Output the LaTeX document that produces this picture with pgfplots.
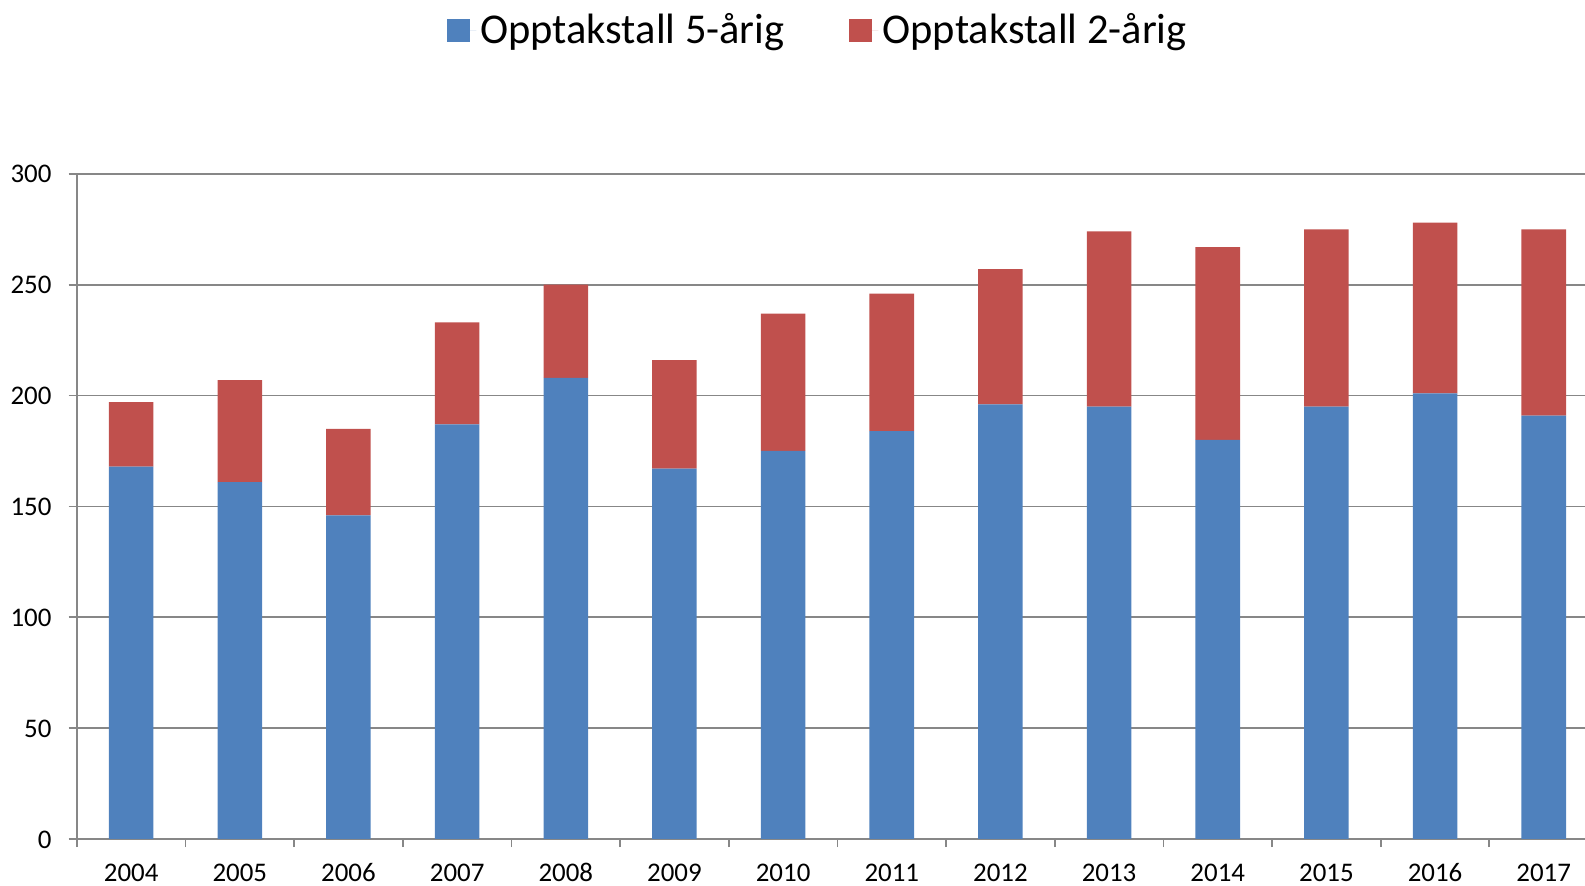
\documentclass[border=0pt]{standalone}
\usepackage{pgfplots}
\pgfplotsset{compat=1.18}
\usepackage{fontspec}
\setmainfont{Carlito}
\definecolor{cblue}{HTML}{4F81BD}
\definecolor{cred}{HTML}{C0504D}
\definecolor{cgrid}{HTML}{878787}
\begin{document}
\begin{tikzpicture}
\useasboundingbox (-38pt,-23pt) rectangle (746pt,415pt);
\begin{axis}[
  at={(0pt,0pt)}, anchor=south west,
  scale only axis, width=746pt, height=329pt,
  ybar stacked, bar width=0.41,
  xmin=-0.5, xmax=13.38, ymin=0, ymax=300,
  axis x line*=bottom, axis y line*=left,
  axis line style={cgrid, line width=0.9pt},
  ytick={0,50,...,300},
  ymajorgrids, grid style={cgrid, line width=0.9pt},
  xtick={-0.5,0.5,...,13.5}, xticklabels={},
  extra x ticks={0,...,13},
  extra x tick labels={2004,2005,2006,2007,2008,2009,2010,2011,2012,2013,2014,2015,2016,2017},
  extra x tick style={major tick length=0pt, grid=none, xticklabel style={yshift=-7pt}},
  typeset ticklabels with strut,
  tick align=outside, major tick length=4pt,
  tick style={cgrid, line width=0.9pt},
  ticklabel style={font=\fontsize{13.3}{15}\selectfont, black},
  yticklabel style={xshift=-5pt, yshift=-1.5pt},
  /pgf/number format/assume math mode=true,
  legend style={at={(0.492,1.216)}, anchor=center, draw=none, fill=none,
    legend columns=2, font=\fontsize{21}{25}\selectfont,
    /tikz/every even column/.append style={column sep=30pt}},
  legend image code/.code={\fill[#1] (0pt,-5.75pt) rectangle (11.5pt,5.75pt); \path (0pt,0pt) -- (14.5pt,0pt);},
]
\addplot[fill=cblue, draw=none] coordinates {
(0,168) (1,161) (2,146) (3,187) (4,208) (5,167) (6,175) (7,184) (8,196) (9,195) (10,180) (11,195) (12,201) (13,191)};
\addplot[fill=cred, draw=none] coordinates {
(0,29) (1,46) (2,39) (3,46) (4,42) (5,49) (6,62) (7,62) (8,61) (9,79) (10,87) (11,80) (12,77) (13,84)};
\legend{Opptakstall 5-årig, Opptakstall 2-årig}
\end{axis}
\end{tikzpicture}
\end{document}
